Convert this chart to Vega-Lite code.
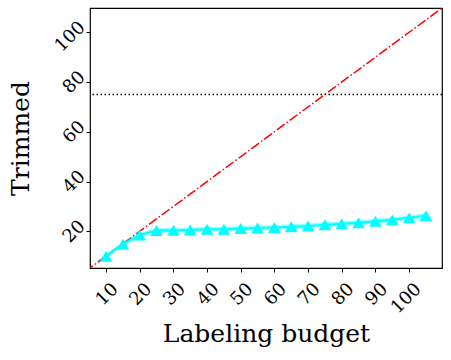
{
  "$schema": "https://vega.github.io/schema/vega-lite/v6.json",
  "width": 352,
  "height": 260,
  "autosize": "none",
  "padding": {"left": 90, "top": 8, "right": 9, "bottom": 92},
  "background": "white",
  "config": {
    "view": {"stroke": "black", "strokeWidth": 1.2},
    "font": "DejaVu Serif",
    "axis": {"grid": false, "domain": false, "tickColor": "black", "tickSize": 4, "labelColor": "black", "titleColor": "black", "labelFont": "DejaVu Serif", "titleFont": "DejaVu Serif", "labelFontSize": 18, "titleFontSize": 25, "titleFontWeight": "normal", "labelOverlap": false, "labelBound": false, "labelFlush": false}
  },
  "datasets": {
    "series": [
      {"budget": 10, "trimmed": 10.0, "lo": 9.0, "hi": 11.0},
      {"budget": 15, "trimmed": 14.8, "lo": 13.8, "hi": 15.8},
      {"budget": 20, "trimmed": 18.5, "lo": 17.5, "hi": 19.5},
      {"budget": 25, "trimmed": 20.3, "lo": 19.3, "hi": 21.3},
      {"budget": 30, "trimmed": 20.4, "lo": 19.4, "hi": 21.4},
      {"budget": 35, "trimmed": 20.5, "lo": 19.5, "hi": 21.5},
      {"budget": 40, "trimmed": 20.8, "lo": 19.8, "hi": 21.8},
      {"budget": 45, "trimmed": 20.8, "lo": 19.8, "hi": 21.8},
      {"budget": 50, "trimmed": 21.1, "lo": 20.1, "hi": 22.1},
      {"budget": 55, "trimmed": 21.3, "lo": 20.3, "hi": 22.3},
      {"budget": 60, "trimmed": 21.5, "lo": 20.5, "hi": 22.5},
      {"budget": 65, "trimmed": 21.8, "lo": 20.8, "hi": 22.8},
      {"budget": 70, "trimmed": 22.1, "lo": 21.1, "hi": 23.1},
      {"budget": 75, "trimmed": 22.6, "lo": 21.6, "hi": 23.6},
      {"budget": 80, "trimmed": 23.0, "lo": 22.0, "hi": 24.0},
      {"budget": 85, "trimmed": 23.4, "lo": 22.4, "hi": 24.4},
      {"budget": 90, "trimmed": 24.0, "lo": 23.0, "hi": 25.0},
      {"budget": 95, "trimmed": 24.6, "lo": 23.6, "hi": 25.6},
      {"budget": 100, "trimmed": 25.4, "lo": 24.4, "hi": 26.4},
      {"budget": 105, "trimmed": 26.3, "lo": 25.3, "hi": 27.3}
    ],
    "diag": [
      {"budget": 0, "trimmed": 0},
      {"budget": 120, "trimmed": 120}
    ]
  },
  "encoding": {
    "x": {"field": "budget", "type": "quantitative", "scale": {"domain": [5.25, 109.75], "nice": false, "zero": false},
      "axis": {"title": "Labeling budget", "values": [10, 20, 30, 40, 50, 60, 70, 80, 90, 100], "labelAngle": -45, "labelAlign": "right", "labelBaseline": "middle", "labelOffset": 9, "labelPadding": 14, "titlePadding": 5}},
    "y": {"field": "trimmed", "type": "quantitative", "scale": {"domain": [5.25, 109.75], "nice": false, "zero": false},
      "axis": {"title": "Trimmed", "values": [20, 40, 60, 80, 100], "labelAngle": -45, "labelAlign": "right", "labelBaseline": "middle", "labelOffset": -8, "labelPadding": 4, "titlePadding": 18}}
  },
  "layer": [
    {"data": {"name": "diag"}, "mark": {"type": "line", "color": "#ff0000", "strokeWidth": 1.5, "strokeDash": [9.6, 2.4, 1.5, 2.4], "clip": true}},
    {"data": {"name": "series"}, "mark": {"type": "area", "color": "#00ffff", "opacity": 0.4}, "encoding": {"y": {"field": "lo", "type": "quantitative"}, "y2": {"field": "hi"}}},
    {"data": {"name": "series"}, "mark": {"type": "line", "color": "#00ffff", "strokeWidth": 2}},
    {"data": {"name": "series"}, "mark": {"type": "point", "shape": "triangle-up", "filled": true, "color": "#00ffff", "opacity": 1, "size": 160}},
    {"data": {"values": [{"v": 75}]}, "mark": {"type": "rule", "color": "black", "strokeWidth": 1.5, "strokeDash": [1.5, 2.5]}, "encoding": {"y": {"field": "v", "type": "quantitative"}, "x": null}}
  ]
}
